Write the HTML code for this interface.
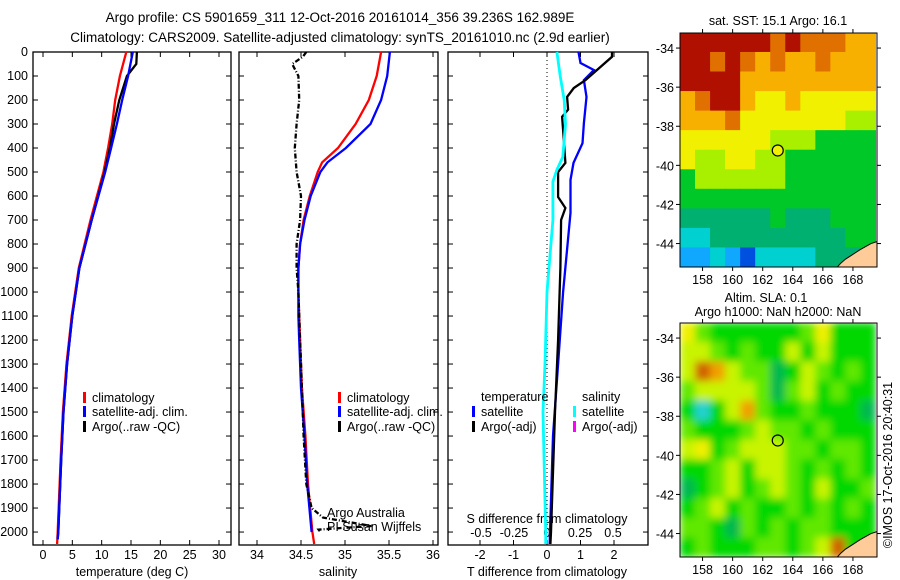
<!DOCTYPE html>
<html><head><meta charset="utf-8"><style>
html,body{margin:0;padding:0;background:#fff;}
svg{display:block;font-family:"Liberation Sans",sans-serif;}
</style></head><body>
<svg id="fig" width="900" height="580" viewBox="0 0 900 580">
<defs><filter id="blurSla" x="0" y="0" width="1" height="1"><feGaussianBlur stdDeviation="4" edgeMode="duplicate"/></filter></defs>
<text x="340" y="22" text-anchor="middle" font-size="13.5">Argo profile: CS 5901659_311 12-Oct-2016 20161014_356 39.236S 162.989E</text>
<text x="340" y="42" text-anchor="middle" font-size="13.5">Climatology: CARS2009. Satellite-adjusted climatology: synTS_20161010.nc (2.9d earlier)</text>
<g id="g"></g>
</svg>
<script>
// ---------- data ----------
const tClimDepth=[0,100,200,300,400,500,700,900,1100,1300,1500,1700,2000,2050];
const tClimVal=[14.2,13.1,12.3,11.8,11.1,10.3,8.1,6.1,4.9,4.0,3.4,3.0,2.5,2.4];
const tSatDepth=[0,100,200,300,400,500,700,900,1100,1300,1500,1700,2000,2030];
const tSatVal=[15.3,14.5,13.5,12.6,11.6,10.6,8.3,6.2,5.0,4.1,3.5,3.1,2.6,2.5];
const tArgoDepth=[0,50,100,200,300,400,500,700,900,1100,1300,1500,1700,2000,2030];
const tArgoVal=[16.0,15.9,14.3,13.0,12.1,11.4,10.5,8.3,6.2,5.0,4.1,3.5,3.1,2.6,2.5];
const sClimDepth=[0,100,200,300,400,460,500,600,700,800,900,1000,1100,1200,1400,1600,1800,2000,2050];
const sClimVal=[35.41,35.36,35.27,35.12,34.92,34.74,34.69,34.6,34.53,34.49,34.47,34.47,34.48,34.49,34.51,34.55,34.58,34.63,34.65];
const sSatDepth=[0,100,200,300,400,460,500,600,700,800,900,1000,1100,1200,1400,1600,1800,2000];
const sSatVal=[35.51,35.48,35.41,35.29,35.01,34.8,34.72,34.61,34.54,34.49,34.47,34.47,34.47,34.48,34.5,34.54,34.57,34.62];
const sArgoDepth=[0,20,50,100,200,300,400,500,600,700,800,900,1000,1200,1400,1600,1800,1900,1940,1975,1990,2000];
const sArgoVal=[34.56,34.52,34.4,34.47,34.48,34.45,34.43,34.45,34.5,34.49,34.45,34.45,34.47,34.49,34.51,34.53,34.56,34.62,34.75,35.3,34.7,34.72];
const dTSatDepth=[0,46,75,117,187,296,380,462,533,670,1000,1300,1600,2000,2050];
const dTSatVal=[0.94,1.0,1.4,1.1,1.18,1.1,1.06,0.79,0.7,0.7,0.48,0.33,0.18,0.09,0.08];
const dTArgoDepth=[0,20,117,150,187,240,270,325,462,500,604,650,700,900,1200,1500,2000,2050];
const dTArgoVal=[1.94,1.94,1.15,0.8,0.6,0.63,0.45,0.48,0.55,0.33,0.33,0.55,0.42,0.4,0.33,0.24,0.12,0.1];
const dSSatDepth=[0,100,200,300,437,491,540,700,1000,1300,1500,2000,2050];
const dSSatVal=[0.075,0.1,0.13,0.14,0.12,0.075,0.045,0.045,0.0,-0.015,-0.03,-0.01,-0.01];
const depthTicks=[0,100,200,300,400,500,600,700,800,900,1000,1100,1200,1300,1400,1500,1600,1700,1800,1900,2000];
const tTicks=[0,5,10,15,20,25,30];
const sTicks=[34,34.5,35,35.5,36];
const sTickLabels=["34","34.5","35","35.5","36"];
const dTTicks=[-2,-1,0,1,2];
const dSTicks=[-0.5,-0.25,0,0.25,0.5];
const dSTickLabels=["-0.5","-0.25","0","0.25","0.5"];
const lonTicks=[158,160,162,164,166,168];
const latTicks=[-34,-36,-38,-40,-42,-44];
const argoLon=163.0, argoLat=-39.24;
const sstGrid=[
[9,9,9,9,9,9,8,9,8,8,8,7,7],
[9,9,8,9,8,7,8,7,7,8,7,7,7],
[9,9,9,9,7,7,7,7,7,7,7,7,7],
[7,8,9,9,7,6,6,7,6,6,6,6,6],
[7,7,7,8,6,6,6,6,6,6,6,5,5],
[6,6,6,6,6,6,5,5,5,4,4,4,4],
[6,5,5,6,6,5,5,4,4,4,4,4,4],
[4,5,5,5,5,5,5,4,4,4,4,4,4],
[4,4,4,4,4,4,4,4,4,4,4,4,4],
[3,3,3,3,3,3,4,3,3,3,4,4,4],
[2,2,3,3,3,3,3,3,3,3,3,4,4],
[1,1,2,1,0,2,2,2,2,3,3,3,4]];
const slaGrid=[
[5,3,2,2,2,2,2,2,3,5,2,2,2],
[4,4,3,2,3,2,2,4,2,4,2,2,2],
[4,7,6,4,3,3,1,2,4,3,2,3,2],
[3,4,4,4,4,3,1,3,4,2,3,2,2],
[2,0,2,4,6,3,2,2,3,2,2,2,1],
[3,2,2,2,3,4,3,3,2,3,2,2,2],
[4,5,2,3,4,4,4,3,3,2,3,3,2],
[2,2,3,4,2,4,4,3,2,3,2,3,2],
[1,2,3,4,2,3,4,3,2,4,2,2,3],
[2,3,4,2,3,2,2,3,2,3,2,3,2],
[3,3,2,1,3,2,3,2,3,3,2,2,2],
[2,3,2,2,2,3,3,2,3,4,7,2,2]];
const sstPalette=["#0050e0","#10a8ff","#00d0d0","#00b070","#00c828","#a8f000","#f0f000","#f8b000","#e07000","#b01000"];
const slaPalette=["#20d0d0","#00b850","#00d800","#60e800","#c8f400","#f0f000","#f0a000","#d06000"];

// ---------- helpers ----------
const NS="http://www.w3.org/2000/svg";
const G=document.getElementById('g');
function mk(tag,attrs,parent){const e=document.createElementNS(NS,tag);for(const k in attrs)e.setAttribute(k,attrs[k]);(parent||G).appendChild(e);return e;}
function txt(x,y,s,size,anchor,parent){const e=mk('text',{x:x,y:y,'font-size':size||12,'text-anchor':anchor||'middle'},parent);e.textContent=s;return e;}
const PT=52,PB=545;
const dmin=0,dmax=2054;
function yD(d){return PT+(d-dmin)/(dmax-dmin)*(PB-PT);}
function linScale(d0,d1,r0,r1){return v=>r0+(v-d0)/(d1-d0)*(r1-r0);}

function panel(name,x0,x1){
  const g=mk('g',{});
  
  
  mk('rect',{x:x0,y:PT,width:x1-x0,height:PB-PT,fill:'none',stroke:'#000','stroke-width':1.3},g);
  depthTicks.forEach(d=>{const y=yD(d);
    mk('line',{x1:x0,x2:x0+5,y1:y,y2:y,stroke:'#000'},g);
    mk('line',{x1:x1-5,x2:x1,y1:y,y2:y,stroke:'#000'},g);});
  return g;
}
function series(g,name,depths,vals,sx,color,width,dash){
  const pts=depths.map((d,i)=>sx(vals[i]).toFixed(1)+','+yD(d).toFixed(1)).join(' ');
  const p=mk('polyline',{points:pts,fill:'none',stroke:color,'stroke-width':width},g);
  if(dash)p.setAttribute('stroke-dasharray',dash);
  
  
}
function legend(g,x,y,color,label,name){
  const e=mk('g',{},g);
  
  
  mk('rect',{x:x,y:y-10,width:3,height:11,fill:color},e);
  txt(x+9,y,label,12.5,'start',e);
}

// ---------- panel 1 temperature ----------
{
  const x0=33,x1=231; const sx=linScale(0,30,43,219);
  const g=panel('temperature-panel',x0,x1);
  depthTicks.forEach(d=>{txt(28,yD(d)+4,String(d),12.5,'end',g);});
  tTicks.forEach(v=>{const x=sx(v);
    mk('line',{x1:x,x2:x,y1:PB,y2:PB-5,stroke:'#000'},g);
    mk('line',{x1:x,x2:x,y1:PT,y2:PT+5,stroke:'#000'},g);
    txt(x,559,String(v),12.5,'middle',g);});
  txt(132,576,'temperature (deg C)',12.5,'middle',g);
  series(g,'temp-climatology-line',tClimDepth,tClimVal,sx,'#f00',2.3);
  series(g,'temp-argo-line',tArgoDepth,tArgoVal,sx,'#000',2.3);
  series(g,'temp-satellite-line',tSatDepth,tSatVal,sx,'#00f',2.3);
  legend(g,83,402,'#f00','climatology','legend-climatology');
  legend(g,83,416,'#00f','satellite-adj. clim.','legend-satellite');
  legend(g,83,431,'#000','Argo(..raw -QC)','legend-argo');
}
// ---------- panel 2 salinity ----------
{
  const x0=239,x1=438; const sx=linScale(34,36,257,433);
  const g=panel('salinity-panel',x0,x1);
  sTicks.forEach((v,i)=>{const x=sx(v);
    mk('line',{x1:x,x2:x,y1:PB,y2:PB-5,stroke:'#000'},g);
    mk('line',{x1:x,x2:x,y1:PT,y2:PT+5,stroke:'#000'},g);
    txt(x,559,sTickLabels[i],12.5,'middle',g);});
  txt(338,576,'salinity',12.5,'middle',g);
  series(g,'sal-climatology-line',sClimDepth,sClimVal,sx,'#f00',2.3);
  series(g,'sal-satellite-line',sSatDepth,sSatVal,sx,'#00f',2.3);
  series(g,'sal-argo-line',sArgoDepth,sArgoVal,sx,'#000',2.3,'5,2,1,2');
  legend(g,338,402,'#f00','climatology','legend-climatology');
  legend(g,338,416,'#00f','satellite-adj. clim.','legend-satellite');
  legend(g,338,431,'#000','Argo(..raw -QC)','legend-argo');
  txt(327,517,'Argo Australia',12.5,'start',g);
  txt(327,531,'PI Susan Wijffels',12.5,'start',g);
}
// ---------- panel 3 differences ----------
{
  const x0=448,x1=648; const sxT=linScale(0,1,547,580.5); const sxS=linScale(0,0.25,547,580);
  const g=panel('difference-panel',x0,x1);
  mk('line',{x1:sxT(0),x2:sxT(0),y1:PT,y2:PB,stroke:'#000','stroke-dasharray':'1,3'},g);
  dTTicks.forEach(v=>{const x=sxT(v);
    mk('line',{x1:x,x2:x,y1:PB,y2:PB-5,stroke:'#000'},g);
    mk('line',{x1:x,x2:x,y1:PT,y2:PT+5,stroke:'#000'},g);
    txt(x,559,String(v),12.5,'middle',g);});
  dSTicks.forEach((v,i)=>{txt(sxS(v),537,dSTickLabels[i],12.5,'middle',g);});
  txt(547,523,'S difference from climatology',12.5,'middle',g);
  txt(547,576,'T difference from climatology',12.5,'middle',g);
  series(g,'dt-satellite-line',dTSatDepth,dTSatVal,sxT,'#00f',2.3);
  series(g,'dt-argo-line',dTArgoDepth,dTArgoVal,sxT,'#000',2.3);
  series(g,'ds-satellite-line',dSSatDepth,dSSatVal,sxS,'#0ff',2.8);
  txt(481,401,'temperature',12.5,'start',g);
  txt(582,401,'salinity',12.5,'start',g);
  legend(g,472,416,'#00f','satellite','legend-t-satellite');
  legend(g,472,431,'#000','Argo(-adj)','legend-t-argo');
  legend(g,573,416,'#0ff','satellite','legend-s-satellite');
  legend(g,573,431,'#f0f','Argo(-adj)','legend-s-argo');
}
// ---------- maps ----------
function map(name,top,grid,pal,circleFill,blur){
  const L=680,R=877,B=top+234;
  const sx=linScale(156.5,169.6,L,R), sy=linScale(-33.23,-45.2,top,B);
  const g=mk('g',{});
  
  
  const cid=name+'-clip';
  const cp=mk('clipPath',{id:cid},g); mk('rect',{x:L,y:top,width:R-L,height:B-top},cp);
  const outer=mk('g',{'clip-path':'url(#'+cid+')'},g);
  const cg=mk('g',{},outer);
  if(blur)cg.setAttribute('filter','url(#blurSla)');
  grid.forEach((row,r)=>row.forEach((v,c)=>{
    const lon0=156.5+c*1.0, lat0=-33.2-r*1.0;
    const x=sx(lon0), y=sy(lat0);
    const w=sx(lon0+1.0)-x+0.5, h=sy(lat0-1.0)-y+0.5;
    const cell=mk('rect',{x:x,y:y,width:w,height:h,fill:pal[v]},cg);
    
    
  }));
  const land=[[169.6,-43.9],[169.2,-44.0],[168.5,-44.3],[167.9,-44.6],[167.5,-44.8],[167.2,-45.0],[166.9,-45.25],[169.6,-45.25]];
  const lp=mk('polygon',{points:land.map(p=>sx(p[0])+','+sy(p[1])).join(' '),fill:'#ffcc99',stroke:'#000','stroke-width':1},outer);
  
  
  mk('rect',{x:L,y:top,width:R-L,height:B-top,fill:'none',stroke:'#000'},g);
  lonTicks.forEach(v=>{const x=sx(v);
    mk('line',{x1:x,x2:x,y1:top,y2:top-4,stroke:'#000'},g);
    mk('line',{x1:x,x2:x,y1:B,y2:B+4,stroke:'#000'},g);
    txt(x,B+17,String(v),12.5,'middle',g);});
  latTicks.forEach(v=>{const y=sy(v);
    mk('line',{x1:L,x2:L-4,y1:y,y2:y,stroke:'#000'},g);
    mk('line',{x1:R,x2:R+4,y1:y,y2:y,stroke:'#000'},g);
    txt(L-6,y+5,String(v),12.5,'end',g);});
  const c=mk('circle',{cx:sx(argoLon),cy:sy(argoLat),r:5.5,fill:circleFill,stroke:'#000','stroke-width':1.2},g);
  
  
  return g;
}
{
  const g=map('sst-map',33,sstGrid,sstPalette,'#f0f000',false);
  txt(778,25,'sat. SST: 15.1 Argo: 16.1',12.5,'middle',g);
  const g2=map('sla-map',323,slaGrid,slaPalette,'none',true);
  txt(766,302,'Altim. SLA: 0.1',12.5,'middle',g2);
  txt(778,316,'Argo h1000: NaN h2000: NaN',12.5,'middle',g2);
  const cr=txt(0,0,'©IMOS 17-Oct-2016 20:40:31',12.5,'middle');
  cr.setAttribute('transform','translate(892,465) rotate(-90)');
  
  
}
</script>
</body></html>
